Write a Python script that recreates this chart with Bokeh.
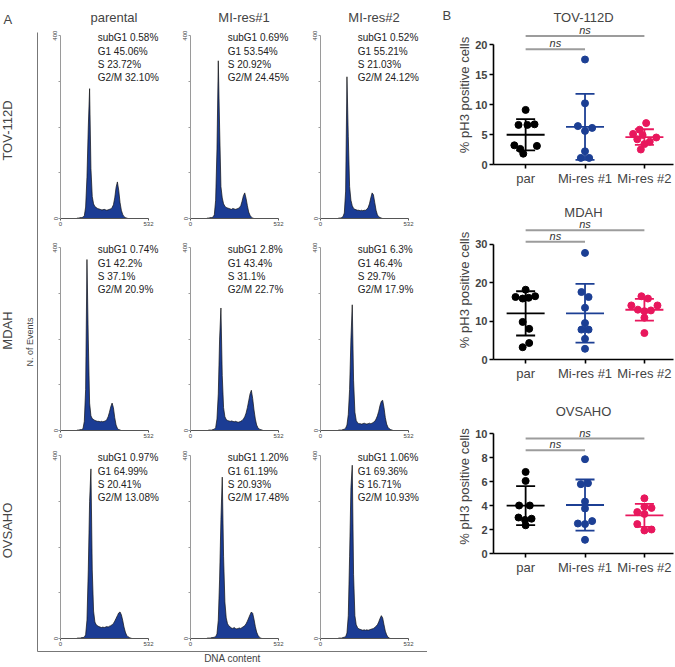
import numpy as np
from bokeh.plotting import figure
from bokeh.layouts import row, column
from bokeh.models import Range1d, FixedTicker, Label, LinearAxis
from bokeh.embed import file_html
from bokeh.resources import INLINE

FONT = "Liberation Sans"

# ---------------- Panel A: cell-cycle histograms ----------------
channels = [96, 104, 112, 120, 128, 136, 144, 152, 160, 168, 176, 184, 192, 200,
            208, 216, 224, 232, 240, 248, 256, 264, 272, 280, 288, 296, 304, 312,
            320, 328, 336, 344, 352, 360, 368, 376, 384, 392, 400, 408, 416, 424,
            432, 440, 448, 456]
row_names = ["TOV-112D", "MDAH", "OVSAHO"]
col_names = ["parental", "MI-res#1", "MI-res#2"]
hist_x_ticks = [0, 532]
hist_y_ticks = [0, 100, 200, 300, 400]

tov_parental = [0, 1, 1, 2, 2, 3, 6, 25, 90, 200, 284, 110, 48, 32, 26, 24, 22, 21, 20, 19,
                19, 20, 19, 18, 19, 20, 21, 24, 30, 45, 68, 80, 62, 35, 18, 9, 4, 2, 1,
                0, 0, 0, 0, 0, 0, 0]
tov_mires1 = [0, 1, 1, 2, 2, 3, 8, 40, 150, 345, 200, 70, 45, 32, 27, 24, 23, 22, 21, 20,
              22, 21, 20, 21, 22, 24, 28, 38, 50, 56, 44, 28, 14, 7, 3, 1,
              0, 0, 0, 0, 0, 0, 0, 0, 0, 0]
tov_mires2 = [0, 0, 1, 1, 2, 4, 12, 60, 310, 180, 70, 40, 28, 22, 20, 19, 18, 18, 17, 18,
              17, 18, 18, 20, 24, 32, 45, 56, 52, 35, 18, 8, 4, 2, 1,
              0, 0, 0, 0, 0, 0, 0, 0, 0, 0, 0]
mdah_parental = [0, 1, 1, 2, 2, 4, 20, 90, 374, 200, 60, 32, 26, 24, 22, 21, 20, 20, 19, 20,
                 19, 20, 21, 24, 30, 40, 52, 60, 50, 28, 12, 5, 2, 1,
                 0, 0, 0, 0, 0, 0, 0, 0, 0, 0, 0, 0]
mdah_mires1 = [0, 0, 1, 1, 1, 2, 3, 6, 25, 80, 200, 268, 120, 50, 30, 24, 22, 21, 20, 21,
               20, 19, 20, 19, 18, 19, 20, 22, 25, 30, 38, 50, 65, 80, 88, 70, 45, 25, 12,
               6, 3, 2, 1, 0, 0, 0]
mdah_mires2 = [0, 0, 1, 1, 1, 2, 3, 5, 12, 35, 90, 200, 275, 110, 40, 22, 17, 15, 15, 14,
               15, 16, 15, 14, 15, 16, 15, 16, 18, 20, 25, 32, 42, 55, 64, 66, 50, 28, 14,
               7, 4, 2, 1, 0, 0, 0]
ovsaho_parental = [0, 1, 1, 1, 2, 2, 3, 8, 40, 150, 300, 371, 150, 60, 36, 30, 28, 26, 25, 24,
                   25, 24, 25, 26, 25, 27, 28, 30, 33, 38, 44, 50, 56, 58, 52, 40, 25, 14, 7,
                   4, 2, 1, 0, 0, 0, 0]
ovsaho_mires1 = [0, 1, 1, 1, 2, 2, 3, 4, 10, 40, 130, 260, 353, 180, 80, 45, 32, 28, 25, 23,
                 22, 24, 22, 21, 22, 23, 22, 24, 26, 28, 32, 38, 45, 52, 58, 55, 42, 26, 14,
                 7, 3, 1, 0, 0, 0, 0]
ovsaho_mires2 = [0, 0, 1, 1, 1, 2, 3, 4, 12, 50, 180, 330, 379, 140, 50, 30, 24, 21, 20, 19,
                 18, 19, 18, 19, 18, 19, 20, 21, 22, 24, 27, 30, 36, 44, 50, 45, 30, 16, 8,
                 3, 1, 0, 0, 0, 0, 0]

tov_parental_phases = ["subG1 0.58%", "G1 45.06%", "S 23.72%", "G2/M 32.10%"]
tov_mires1_phases = ["subG1 0.69%", "G1 53.54%", "S 20.92%", "G2/M 24.45%"]
tov_mires2_phases = ["subG1 0.52%", "G1 55.21%", "S 21.03%", "G2/M 24.12%"]
mdah_parental_phases = ["subG1 0.74%", "G1 42.2%", "S 37.1%", "G2/M 20.9%"]
mdah_mires1_phases = ["subG1 2.8%", "G1 43.4%", "S 31.1%", "G2/M 22.7%"]
mdah_mires2_phases = ["subG1 6.3%", "G1 46.4%", "S 29.7%", "G2/M 17.9%"]
ovsaho_parental_phases = ["subG1 0.97%", "G1 64.99%", "S 20.41%", "G2/M 13.08%"]
ovsaho_mires1_phases = ["subG1 1.20%", "G1 61.19%", "S 20.93%", "G2/M 17.48%"]
ovsaho_mires2_phases = ["subG1 1.06%", "G1 69.36%", "S 16.71%", "G2/M 10.93%"]

# ---------------- Panel B: % pH3 positive cells ----------------
groups = ["par", "Mi-res #1", "Mi-res #2"]
tov_par = [9.1, 6.6, 6.6, 6.7, 3.2, 3.1, 2.6, 1.8]
tov_r1 = [17.5, 10.2, 6.4, 6.1, 5.6, 2.2, 1.1, 1.1]
tov_r2 = [6.9, 5.8, 5.1, 4.9, 4.5, 4.2, 3.8, 3.4, 2.5]
mdah_par = [18.2, 16.3, 15.9, 16.1, 16.5, 9.8, 8.0, 4.3, 3.2]
mdah_r1 = [27.8, 17.6, 16.3, 13.5, 9.5, 7.8, 7.8, 5.4, 2.8]
mdah_r2 = [16.5, 15.9, 14.1, 14.1, 13.0, 12.6, 12.8, 10.9, 6.9]
ovs_par = [6.8, 6.05, 4.0, 4.0, 3.0, 2.9, 2.8, 2.35]
ovs_r1 = [7.86, 5.78, 5.86, 4.33, 3.75, 2.5, 2.7, 2.45, 1.14]
ovs_r2 = [4.6, 3.9, 3.8, 3.45, 3.3, 2.45, 1.92, 2.0]

# horizontal scatter of the dots inside each column
tov_par_dx = [0.0, -0.12, 0.03, 0.15, -0.19, 0.19, -0.09, -0.04]
tov_r1_dx = [0.0, 0.0, -0.12, 0.12, 0.0, 0.0, -0.07, 0.07]
tov_r2_dx = [0.03, -0.08, -0.19, -0.03, 0.2, -0.12, 0.09, 0.0, -0.06]
mdah_par_dx = [0.0, -0.17, -0.05, 0.05, 0.16, -0.05, 0.06, 0.06, -0.05]
mdah_r1_dx = [0.0, -0.06, 0.06, 0.0, 0.0, -0.06, 0.06, 0.0, 0.0]
mdah_r2_dx = [-0.05, 0.06, -0.22, 0.22, -0.11, 0.0, 0.11, 0.0, 0.0]
ovs_par_dx = [0.0, 0.0, -0.11, 0.07, -0.12, 0.1, -0.01, 0.0]
ovs_r1_dx = [0.0, -0.07, 0.05, 0.0, 0.0, -0.12, 0.12, 0.0, 0.0]
ovs_r2_dx = [0.0, 0.0, 0.12, -0.12, 0.0, -0.12, 0.0, 0.12]

HIST_FILL = "#1b3c94"
GROUP_COLORS = ["#000000", "#1c3f94", "#e8175d"]


def clean(p):
    p.outline_line_color = None
    p.grid.visible = False
    p.background_fill_color = None
    p.border_fill_color = None


HIST_FRAME_H = 192      # px for 0..420 counts
HIST_FRAME_W = 107      # px for 0..647 channels (axis drawn 0..532)


def hist_fig(counts, phases, top, bottom, title=None):
    kw = dict(width=23 + HIST_FRAME_W, height=top + HIST_FRAME_H + bottom,
              x_range=Range1d(0, 647), y_range=Range1d(0, 420),
              output_backend="svg", toolbar_location=None,
              min_border_left=23, min_border_right=0,
              min_border_top=top, min_border_bottom=bottom)
    if title is not None:
        kw["title"] = title
    p = figure(**kw)
    clean(p)
    if title is not None:
        p.title.text_font = FONT
        p.title.text_font_size = "13px"
        p.title.text_font_style = "normal"
        p.title.align = "center"
        p.title.offset = 0
        p.title.standoff = 3
    p.varea(x=channels, y1=0, y2=counts, fill_color=HIST_FILL)
    p.line(x=channels, y=counts, line_color="#111111", line_width=0.7)
    xa = p.xaxis[0]
    xa.ticker = FixedTicker(ticks=hist_x_ticks)
    xa.bounds = (0, 532)
    xa.major_label_text_font_size = "6px"
    xa.major_label_text_font = FONT
    xa.axis_line_color = "#555555"
    xa.major_tick_line_color = "#555555"
    xa.major_tick_out = 2
    xa.major_tick_in = 0
    xa.minor_tick_line_color = None
    xa.major_label_standoff = 1
    ya = p.yaxis[0]
    ya.ticker = FixedTicker(ticks=hist_y_ticks)
    ya.bounds = (0, 400)
    ya.major_label_overrides = {100: "", 200: "", 300: ""}
    ya.major_label_orientation = "vertical"
    ya.major_label_text_font_size = "6px"
    ya.major_label_text_font = FONT
    ya.axis_line_color = "#9a9a9a"
    ya.major_tick_line_color = "#9a9a9a"
    ya.major_tick_out = 2
    ya.major_tick_in = 0
    ya.minor_tick_line_color = None
    ya.major_label_standoff = 1
    p.add_layout(Label(x=225, y=407, text="\n".join(phases), text_baseline="top",
                       text_align="left", text_font=FONT, text_font_size="10px",
                       text_color="#222222"))
    return p


hist_data = [[tov_parental, tov_mires1, tov_mires2],
             [mdah_parental, mdah_mires1, mdah_mires2],
             [ovsaho_parental, ovsaho_mires1, ovsaho_mires2]]
phase_data = [[tov_parental_phases, tov_mires1_phases, tov_mires2_phases],
              [mdah_parental_phases, mdah_mires1_phases, mdah_mires2_phases],
              [ovsaho_parental_phases, ovsaho_mires1_phases, ovsaho_mires2_phases]]

tops = [26, 6, 2]
bottoms = [14, 14, 13]
hist_rows = []
for r in range(3):
    figs = [hist_fig(hist_data[r][c], phase_data[r][c], tops[r], bottoms[r],
                     col_names[c] if r == 0 else None) for c in range(3)]
    hist_rows.append(row(*figs, spacing=0))

# footer: frame line + "DNA content"
footer = figure(width=390, height=15, x_range=Range1d(0, 1), y_range=Range1d(0, 1),
                output_backend="svg", toolbar_location=None,
                min_border_top=0, min_border_bottom=14, min_border_left=0, min_border_right=0)
clean(footer)
footer.yaxis.visible = False
fa = footer.xaxis[0]
fa.ticker = FixedTicker(ticks=[])
fa.axis_line_color = "#777777"
fa.axis_label = "DNA content"
fa.axis_label_text_font = FONT
fa.axis_label_text_font_size = "10px"
fa.axis_label_text_font_style = "normal"
fa.axis_label_standoff = 1
fa.major_tick_out = 0
fa.major_label_standoff = 0

# strip on the left: "A", row names, "N. of Events" and the frame line
STRIP_FRAME_H = 619
row_pos = [521, 321, 121]   # pixel heights of the row names above the frame bottom
strip = figure(width=37, height=666, x_range=Range1d(0, 1), y_range=Range1d(0, STRIP_FRAME_H),
               output_backend="svg", toolbar_location=None, title="A",
               min_border_left=36, min_border_right=0, min_border_top=32, min_border_bottom=15)
clean(strip)
strip.title.text_font = FONT
strip.title.text_font_size = "13px"
strip.title.text_font_style = "normal"
strip.title.align = "left"
strip.title.offset = -34
strip.title.standoff = 12
strip.xaxis.visible = False
ia = strip.yaxis[0]
ia.ticker = FixedTicker(ticks=[])
ia.axis_line_color = "#777777"
ia.axis_label = "N. of Events"
ia.axis_label_text_font = FONT
ia.axis_label_text_font_size = "9px"
ia.axis_label_text_font_style = "normal"
ia.axis_label_standoff = 3
ia.major_tick_out = 0
ia.major_label_standoff = 0
oa = LinearAxis(ticker=FixedTicker(ticks=row_pos),
                major_label_overrides={row_pos[i]: row_names[i] for i in range(3)},
                axis_line_color=None, major_tick_line_color=None, minor_tick_line_color=None,
                major_label_orientation="vertical", major_label_standoff=1,
                major_label_text_font=FONT, major_label_text_font_size="13px")
strip.add_layout(oa, "left")

left = row(strip, column(*hist_rows, footer, spacing=0), spacing=0)


# ---------------- Panel B figures ----------------
def scatter_fig(title, data, dxs, yticks, y_end, brackets, top, frame_h, bottom):
    p = figure(width=220, height=top + frame_h + bottom, title=title,
               x_range=Range1d(-0.541, 2.49), y_range=Range1d(0, y_end),
               output_backend="svg", toolbar_location=None,
               min_border_left=34, min_border_right=1,
               min_border_top=top, min_border_bottom=bottom)
    clean(p)
    p.title.text_font = FONT
    p.title.text_font_size = "13px"
    p.title.text_font_style = "normal"
    p.title.align = "center"
    p.title.standoff = 2
    for (x0, x1, yv) in brackets:
        p.segment(x0=[x0], y0=[yv], x1=[x1], y1=[yv], line_color="#9c9c9c", line_width=2)
        p.add_layout(Label(x=(x0 + x1) / 2, y=yv, text="ns", text_align="center",
                           text_baseline="bottom", y_offset=0, text_font=FONT,
                           text_font_size="11px", text_font_style="italic",
                           text_color="#333333"))
    for i, (vals, dx, c) in enumerate(zip(data, dxs, GROUP_COLORS)):
        xs = [i + d for d in dx]
        p.scatter(x=xs, y=vals, size=7, fill_color=c, line_color=c)
        m = float(np.mean(vals))
        s = float(np.std(vals, ddof=1))
        p.segment(x0=[i - 0.32, i, i - 0.16, i - 0.16],
                  y0=[m, m - s, m + s, m - s],
                  x1=[i + 0.32, i, i + 0.16, i + 0.16],
                  y1=[m, m + s, m + s, m - s],
                  line_color=c, line_width=1.8)
    ya = p.yaxis[0]
    ya.ticker = FixedTicker(ticks=yticks)
    ya.bounds = (yticks[0], yticks[-1])
    ya.axis_line_width = 1.6
    ya.major_tick_line_width = 1.6
    ya.major_tick_out = 4
    ya.major_tick_in = 0
    ya.minor_tick_line_color = None
    ya.major_label_text_font = FONT
    ya.major_label_text_font_size = "11px"
    ya.major_label_text_font_style = "bold"
    ya.major_label_standoff = 2
    ya.axis_label = "% pH3 positive cells"
    ya.axis_label_text_font = FONT
    ya.axis_label_text_font_size = "13px"
    ya.axis_label_text_font_style = "normal"
    ya.axis_label_standoff = 0
    xa = p.xaxis[0]
    xa.ticker = FixedTicker(ticks=[0, 1, 2])
    xa.major_label_overrides = {0: groups[0], 1: groups[1], 2: groups[2]}
    xa.axis_line_width = 1.6
    xa.major_tick_line_width = 1.6
    xa.major_tick_out = 4
    xa.major_tick_in = 0
    xa.minor_tick_line_color = None
    xa.major_label_text_font = FONT
    xa.major_label_text_font_size = "13px"
    xa.major_label_standoff = 2
    return p


s1 = scatter_fig("TOV-112D", [tov_par, tov_r1, tov_r2], [tov_par_dx, tov_r1_dx, tov_r2_dx],
                 [0, 5, 10, 15, 20], 23.17, [(0, 1, 19.2), (0, 2, 21.4)],
                 25, 139, 26)
s2 = scatter_fig("MDAH", [mdah_par, mdah_r1, mdah_r2], [mdah_par_dx, mdah_r1_dx, mdah_r2_dx],
                 [0, 10, 20, 30], 36.26, [(0, 1, 30.7), (0, 2, 33.7)],
                 30, 139, 31)
s3 = scatter_fig("OVSAHO", [ovs_par, ovs_r1, ovs_r2], [ovs_par_dx, ovs_r1_dx, ovs_r2_dx],
                 [0, 2, 4, 6, 8, 10], 11.17, [(0, 1, 8.6), (0, 2, 9.58)],
                 29, 134, 37)

# narrow strip carrying the panel letter "B"
bstrip = figure(width=27, height=590, x_range=Range1d(0, 1), y_range=Range1d(0, 1),
                output_backend="svg", toolbar_location=None, title="B",
                min_border_left=15, min_border_right=0, min_border_top=24, min_border_bottom=0)
clean(bstrip)
bstrip.axis.visible = False
bstrip.title.text_font = FONT
bstrip.title.text_font_size = "13px"
bstrip.title.text_font_style = "normal"
bstrip.title.align = "left"
bstrip.title.standoff = 4

right = row(bstrip, column(s1, s2, s3, spacing=0), spacing=0)
layout = row(left, right, spacing=0)

open("out.html", "w").write(file_html(layout, INLINE, title="Cell cycle and pH3"))
